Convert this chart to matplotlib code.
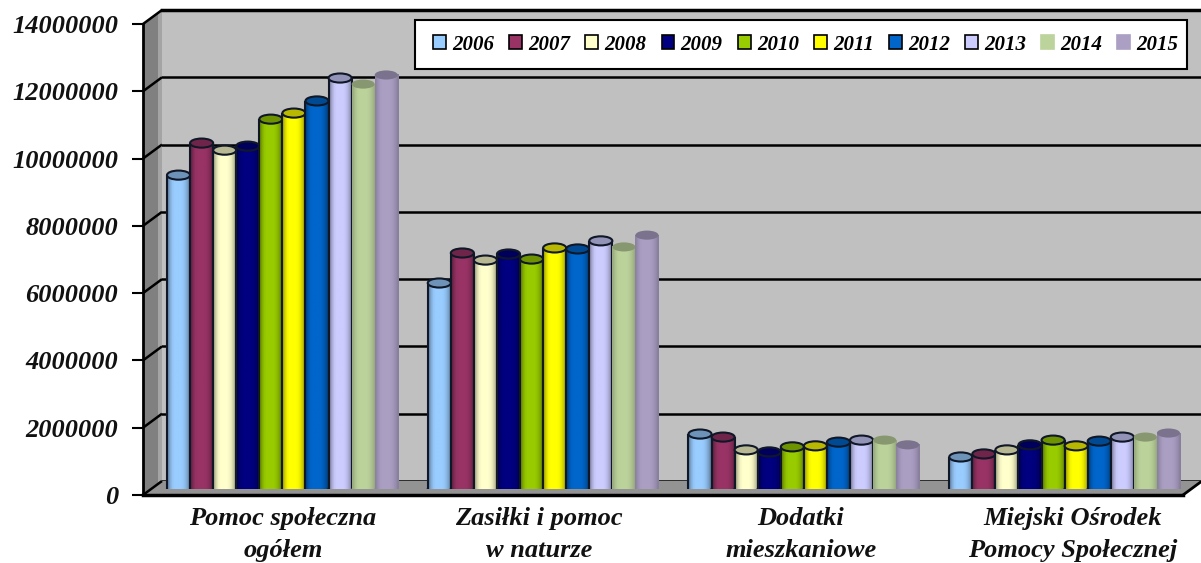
import numpy as np
import matplotlib
matplotlib.use("Agg")
import matplotlib.pyplot as plt
from matplotlib.patches import Ellipse, Polygon, Patch, Rectangle
from matplotlib.colors import to_rgb

categories = ["Pomoc społeczna\nogółem", "Zasiłki i pomoc\nw naturze",
              "Dodatki\nmieszkaniowe", "Miejski Ośrodek\nPomocy Społecznej"]
years = ["2006", "2007", "2008", "2009", "2010", "2011", "2012", "2013", "2014", "2015"]
colors = ["#99ccff", "#993366", "#ffffcc", "#000080", "#99cc00",
          "#ffff00", "#0066cc", "#ccccff", "#bcd39c", "#ab9fc4"]
outlined = [True] * 8 + [False, False]

pomoc = [9310000, 10260000, 10050000, 10170000, 10970000, 11150000, 11510000, 12190000, 12010000, 12280000]
zasilki = [6110000, 7000000, 6790000, 6970000, 6820000, 7150000, 7120000, 7360000, 7180000, 7530000]
dodatki = [1630000, 1540000, 1160000, 1100000, 1250000, 1280000, 1390000, 1450000, 1450000, 1310000]
mops = [950000, 1040000, 1160000, 1310000, 1450000, 1280000, 1420000, 1540000, 1540000, 1660000]
values = [pomoc, zasilki, dodatki, mops]
yticks = [0, 2000000, 4000000, 6000000, 8000000, 10000000, 12000000, 14000000]

W, H = 1201, 563
font = dict(family="Liberation Serif", weight="bold", style="italic")


def axes_px(x0, y0, x1, y1, **kw):
    # position given in image pixels, y from the top
    return fig.add_axes([x0 / W, 1 - y1 / H, (x1 - x0) / W, (y1 - y0) / H], **kw)


fig = plt.figure(figsize=(W / 100, H / 100), dpi=100, facecolor="white")

# geometry of the fake 3d box
fx0, fx1, fy0, fy1 = 143, 1183, 24, 495
dx, dy = 19, 14

# walls, in pixels
bg = axes_px(0, 0, W, H, zorder=0)
bg.set_xlim(0, W)
bg.set_ylim(H, 0)
bg.axis("off")
bg.add_patch(Polygon([(fx0, fy0), (fx0 + dx, fy0 - dy), (fx0 + dx, fy1 - dy), (fx0, fy1)],
                     fc="#808080", ec="none"))
bg.add_patch(Polygon([(fx0 + dx - 4, fy0 - dy + 3), (fx0 + dx, fy0 - dy), (fx0 + dx, fy1 - dy), (fx0 + dx - 4, fy1 - dy + 3)],
                     fc="#a4a4a4", ec="none"))
bg.add_patch(Polygon([(fx0, fy1), (fx0 + dx, fy1 - dy), (fx1 + dx, fy1 - dy), (fx1, fy1)],
                     fc="#939393", ec="none"))

# back wall carries the gridlines
back = axes_px(fx0 + dx, fy0 - dy, W + 5, fy1 - dy, zorder=1)
back.set_facecolor("#c0c0c0")
back.set_ylim(0, 14000000)
back.set_xticks([])
back.set_yticks(yticks)
back.tick_params(left=False, labelleft=False)
back.grid(axis="y", color="black", lw=1.8)
back.set_axisbelow(True)
for s in back.spines.values():
    s.set_visible(False)
back.spines["top"].set_visible(True)
back.spines["top"].set_linewidth(2.5)

# diagonal grid ends on the side wall
for v in yticks:
    y = fy1 - (fy1 - fy0) * v / 14000000
    bg.plot([fx0, fx0 + dx], [y, y - dy], color="black", lw=1.8, solid_capstyle="butt")
bg.plot([fx1, fx1 + dx], [fy1, fy1 - dy], color="black", lw=2)

# front plane: ticks and labels
front = axes_px(fx0, fy0, fx1, fy1, zorder=2)
front.patch.set_alpha(0)
front.set_ylim(0, 14000000)
front.set_xlim(-0.5, 3.5)
front.set_yticks(yticks)
front.set_yticklabels([str(v) for v in yticks], fontsize=19, color="#111111", **font)
front.tick_params(axis="y", length=8, width=1.5, pad=10)
front.set_xticks([0.038, 1.023, 2.03, 3.077])
front.set_xticklabels(categories, fontsize=19, color="#111111", linespacing=1.52, **font)
front.tick_params(axis="x", length=0, pad=8.5)
for s in ["top", "right"]:
    front.spines[s].set_visible(False)
front.spines["left"].set_linewidth(2)
front.spines["bottom"].set_linewidth(2.5)

# bars sit half way into the box
ax = axes_px(fx0 + 9, fy0 - 7, fx1 + 12, fy1 - 6, zorder=3)
ax.patch.set_alpha(0)
ax.axis("off")
ax.set_xlim(-0.5, 3.5)
ax.set_ylim(0, 14000000)
ax.set_autoscale_on(False)

bw = 0.0885
cap = 270000
shade = np.array([0.66, 0.84, 0.96, 1.0, 1.0, 1.0, 1.0, 0.97, 0.9, 0.78, 0.62])

z = 3
for g, group in enumerate(values):
    for i, v in enumerate(group):
        x = g + (i - 4.5) * bw
        base = np.array(to_rgb(colors[i]))
        edge = "#101828" if outlined[i] else "none"
        if outlined[i]:
            grad_s = shade
        else:
            grad_s = 0.8 + (shade - 0.62) * 0.52
        grad = np.clip(base[None, None, :] * grad_s[None, :, None], 0, 1)
        ax.add_patch(Ellipse((x, 0), bw, cap, fc=base * 0.8, ec=edge, lw=1.5, zorder=z))
        ax.bar(x, v, bw, color=colors[i], zorder=z + 0.1)
        ax.imshow(grad, extent=[x - bw / 2, x + bw / 2, 0, v], aspect="auto", interpolation="bilinear", zorder=z + 0.2)
        if outlined[i]:
            ax.vlines([x - bw / 2, x + bw / 2], 0, v, color=edge, lw=1.5, zorder=z + 0.3)
        ax.add_patch(Ellipse((x, v), bw, cap, fc=base * 0.72, ec=edge, lw=1.5, zorder=z + 0.4))
        z += 1

ax.set_xlim(-0.5, 3.5)
ax.set_ylim(0, 14000000)

# legend: box drawn on its own, entries start 18 px in from the left
leg_x0, leg_x1 = 415, 1187
leg_ax = axes_px(leg_x0, 20, leg_x1, 69, zorder=4)
leg_ax.axis("off")
leg_ax.add_patch(Rectangle((0, 0), 1, 1, transform=leg_ax.transAxes, fc="white", ec="black", lw=1.5, clip_on=False))
handles = [Patch(facecolor=c, edgecolor="black" if o else c, lw=1.2) for c, o in zip(colors, outlined)]
leg_ax.legend(handles, years, ncol=10, loc="center left", bbox_to_anchor=(18 / (leg_x1 - leg_x0), 0.5),
              frameon=False, handlelength=0.62, handleheight=0.62, handletextpad=0.3, columnspacing=0.72,
              borderpad=0, borderaxespad=0,
              prop=dict(family="Liberation Serif", weight="bold", style="italic", size=15))

fig.savefig("out.png", dpi=100)
